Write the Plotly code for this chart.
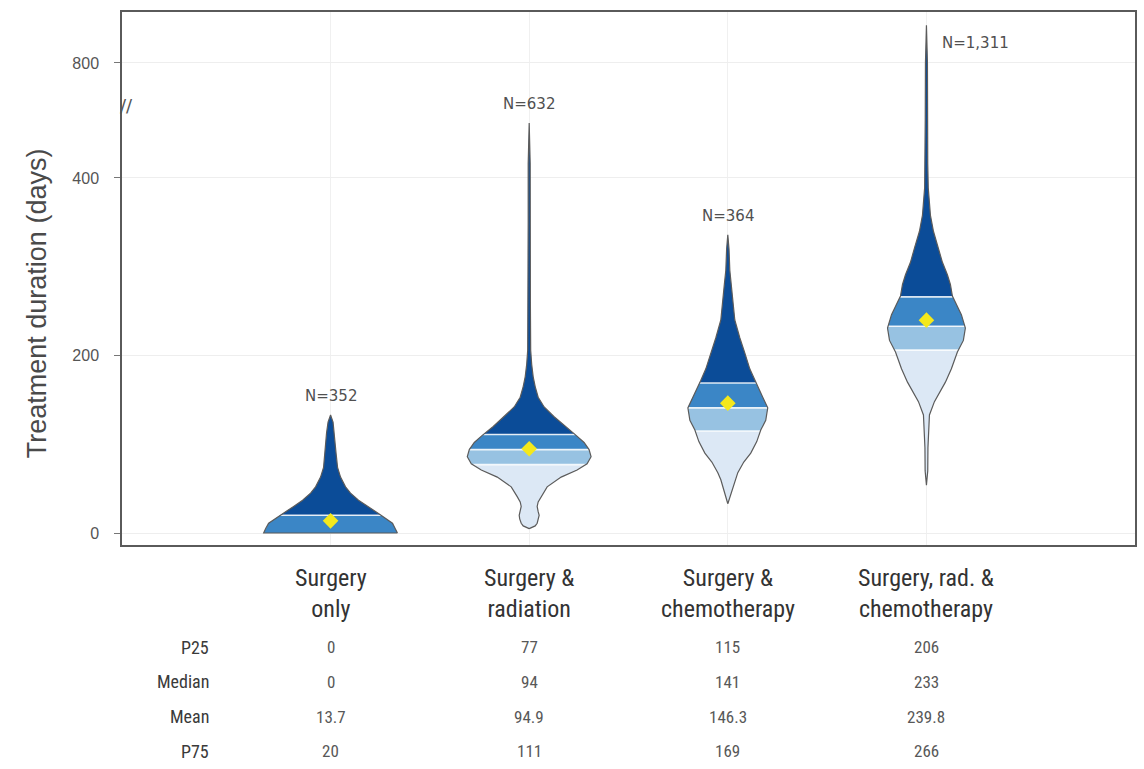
import numpy as np
import plotly.graph_objects as go

# ---- data -------------------------------------------------------------
groups = ["Surgery<br>only", "Surgery &<br>radiation",
          "Surgery &<br>chemotherapy", "Surgery, rad. &<br>chemotherapy"]
n_obs = [352, 632, 364, 1311]
p25 = [0, 77, 115, 206]
median = [0, 94, 141, 233]
mean = [13.7, 94.9, 146.3, 239.8]
p75 = [20, 111, 169, 266]

# density profiles: duration (days) and relative density (violin half-width)
surg_days = [0, 5, 11, 22, 30, 37, 45, 52, 63, 74, 90, 113, 125, 133]
surg_dens = [67, 65, 62, 48, 37, 28, 20, 15, 10, 7, 5.5, 4, 2.5, 0]

rad_days = [5, 8, 11, 16, 20, 24, 30, 35, 41, 52, 63, 71, 78, 86, 94, 102,
            110, 120, 131, 142, 153, 165, 176, 190, 206, 260, 350, 450, 591]
rad_dens = [0, 6, 8, 9.5, 10, 9, 8, 9, 12, 18, 32, 48, 58, 62, 60, 55,
            47, 36, 25, 15, 9, 6, 4, 2.5, 1.5, 1.2, 1, 1, 0]

chemo_days = [33, 40, 52, 60, 68, 80, 90, 103, 116, 127, 141, 153, 165, 172,
              185, 203, 220, 240, 260, 280, 296, 320, 336]
chemo_dens = [0, 2, 5, 7, 10, 16, 23, 29, 33, 38, 40, 35, 30, 27,
              22, 17, 12, 7, 5, 3.5, 2, 1.2, 0]

trimod_days = [54, 70, 96, 115, 133, 148, 160, 170, 185, 204, 217, 231, 246,
               267, 280, 291, 305, 321, 340, 358, 389, 450, 600, 800, 931]
trimod_dens = [0, 1.3, 1.5, 2, 3, 8, 14, 19, 25, 31, 37, 39, 35,
               26, 24, 21, 16, 12, 7, 4, 1.8, 1.3, 1.2, 1, 0]

profiles = [(surg_days, surg_dens), (rad_days, rad_dens),
            (chemo_days, chemo_dens), (trimod_days, trimod_dens)]

y_ticks = [0, 200, 400, 800]
stat_rows = [("P25", p25), ("Median", median), ("Mean", mean), ("P75", p75)]

# ---- styling ----------------------------------------------------------
DENS_TO_X = 1 / 199.0          # density unit -> category-axis units
BREAK, SQUEEZE = 400, 0.324    # axis is compressed above the break
C_TOP, C_UPQ, C_LOWQ, C_LOW = "#0b4c98", "#3b86c6", "#97c2e2", "#dce8f5"
OUTLINE = "#5b5b5b"
LABEL_FONT = "Roboto Condensed, Liberation Sans Narrow, Roboto"


def ty(v):
    v = np.asarray(v, dtype=float)
    return np.where(v <= BREAK, v, BREAK + (v - BREAK) * SQUEEZE)


def fmt(v):
    return f"{v:g}"


fig = go.Figure()

for i, (days, dens) in enumerate(profiles):
    days = np.asarray(days, float)
    half = np.asarray(dens, float) * DENS_TO_X
    lo_end, hi_end = days[0], days[-1]

    def band(lo, hi, color):
        if hi <= lo:
            return
        inner = days[(days > lo) & (days < hi)]
        yy = np.concatenate([[lo], inner, [hi]])
        ww = np.interp(yy, days, half)
        xs = np.concatenate([i + ww, (i - ww)[::-1]])
        ys = np.concatenate([yy, yy[::-1]])
        fig.add_trace(go.Scatter(
            x=np.append(xs, xs[0]), y=ty(np.append(ys, ys[0])),
            mode="lines", fill="toself", fillcolor=color,
            line=dict(width=0), hoverinfo="skip", showlegend=False))

    band(lo_end, p25[i], C_LOW)
    band(max(p25[i], lo_end), median[i], C_LOWQ)
    band(max(median[i], lo_end), p75[i], C_UPQ)
    band(p75[i], hi_end, C_TOP)

    # quantile separators
    for q in (p25[i], median[i], p75[i]):
        if q <= lo_end:
            continue
        w = float(np.interp(q, days, half))
        fig.add_trace(go.Scatter(
            x=[i - w, i + w], y=ty([q, q]), mode="lines",
            line=dict(color="rgba(255,255,255,0.85)", width=1.6),
            hoverinfo="skip", showlegend=False))

    # violin outline
    xs = np.concatenate([i + half, (i - half)[::-1]])
    ys = np.concatenate([days, days[::-1]])
    fig.add_trace(go.Scatter(
        x=np.append(xs, xs[0]), y=ty(np.append(ys, ys[0])), mode="lines",
        line=dict(color=OUTLINE, width=1.2), hoverinfo="skip",
        showlegend=False))

# means
fig.add_trace(go.Scatter(
    x=list(range(len(groups))), y=ty(mean), mode="markers",
    marker=dict(symbol="diamond", size=12, color="#f4e81c",
                line=dict(width=0)),
    showlegend=False))

# ---- annotations ------------------------------------------------------
ann = []
n_font = dict(family="DejaVu Sans", size=15, color="#505050")
for i, (days, _) in enumerate(profiles):
    top = float(ty(days[-1]))
    if i < 3:
        ann.append(dict(x=i, y=top, xref="x", yref="y", yanchor="bottom",
                        yshift=8, text=f"N={n_obs[i]:,}", showarrow=False,
                        font=n_font))
    else:
        ann.append(dict(x=i, y=top, xref="x", yref="y", xanchor="left",
                        yanchor="middle", xshift=14, yshift=-18,
                        text=f"N={n_obs[i]:,}", showarrow=False,
                        font=n_font))

# category labels
for i, g in enumerate(groups):
    ann.append(dict(x=i, y=0, xref="x", yref="paper", yanchor="middle",
                    yshift=-48, text=g, showarrow=False,
                    font=dict(family=LABEL_FONT, size=24, color="#333333")))

# summary table
for r, (label, vals) in enumerate(stat_rows):
    shift = -102 - r * 34.8
    ann.append(dict(x=-0.6, y=0, xref="x", yref="paper", xanchor="right",
                    yanchor="middle", yshift=shift, text=label,
                    showarrow=False,
                    font=dict(family=LABEL_FONT, size=18, color="#3a3a3a")))
    for i, v in enumerate(vals):
        ann.append(dict(x=i, y=0, xref="x", yref="paper", yanchor="middle",
                        yshift=shift, text=fmt(v), showarrow=False,
                        font=dict(family=LABEL_FONT, size=17,
                                  color="#585858")))

# axis title
ann.append(dict(x=-0.0837, y=0.454, xref="paper", yref="paper",
                xanchor="center", yanchor="middle",
                text="Treatment duration (days)", textangle=-90,
                showarrow=False,
                font=dict(family="Liberation Sans, Arial", size=27,
                          color="#4a4a4a")))

# axis break marker
ann.append(dict(x=0, y=482, xref="paper", yref="y", text="//",
                showarrow=False, xanchor="center", xshift=4,
                font=dict(family="DejaVu Sans", size=18, color="#555555")))

fig.update_layout(
    width=1144, height=769,
    margin=dict(l=122, r=7, t=12, b=224),
    paper_bgcolor="white", plot_bgcolor="white",
    annotations=ann, showlegend=False,
    xaxis=dict(range=[-1.05, 4.05], tickvals=list(range(len(groups))),
               showticklabels=False, ticks="", showgrid=True,
               gridcolor="#f0f0f0", gridwidth=1, zeroline=False,
               showline=True, linecolor="#5a5a5a", linewidth=1.5,
               mirror=True, fixedrange=True),
    yaxis=dict(range=[-13.5, 587], tickvals=ty(y_ticks).tolist(),
               ticktext=[str(t) for t in y_ticks], ticks="outside",
               ticklen=6, tickcolor="#777777", showgrid=True,
               gridcolor="#eeeeee", gridwidth=1, zeroline=False,
               showline=True, linecolor="#5a5a5a", linewidth=1.5,
               mirror=True, ticklabelstandoff=12,
               tickfont=dict(family="Liberation Sans, Arial", size=16,
                             color="#555555"), fixedrange=True),
)

fig.write_html("out.html")
